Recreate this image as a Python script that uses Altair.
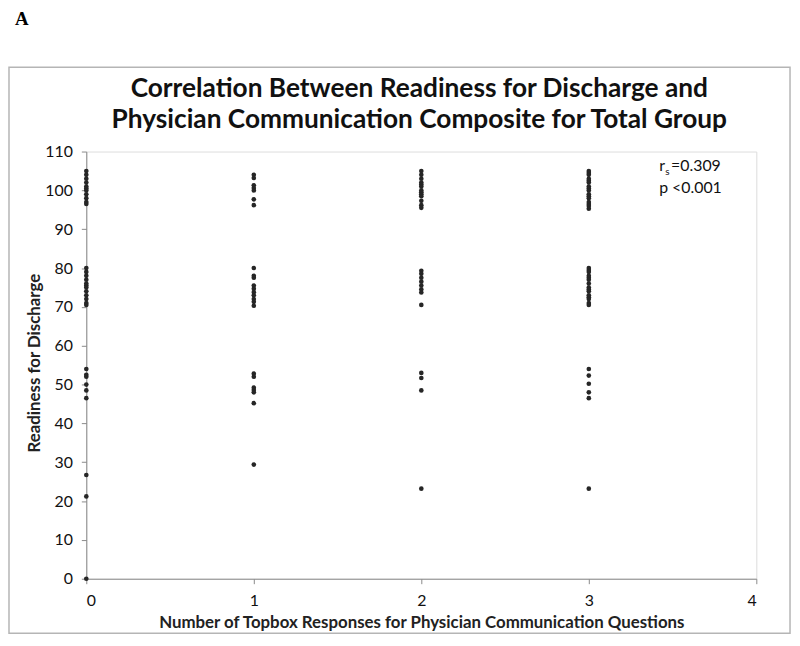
import altair as alt
import pandas as pd

# Readiness-for-discharge scores by number of topbox responses
x0_vals = [105, 104, 103, 102, 101, 100.5, 100, 99, 98, 97, 96.5,
           80, 79, 78, 77, 76, 75.5, 75, 74, 73, 72, 71, 70.5,
           54, 52.5, 52, 50, 48.5, 46.5, 26.7, 21.2, 0]
x1_vals = [104, 103.2, 101.3, 100.6, 100, 97.7, 96.2,
           80, 78, 77.5, 75.5, 74.7, 73.8, 73, 72, 71.3, 70.3,
           52.8, 52, 49.2, 48.6, 48, 45.2, 29.4]
x2_vals = [105, 104, 103, 102, 101.5, 101, 100, 99.5, 99, 98.5, 97.3, 96.2, 95.5,
           79.3, 78.5, 77.5, 76.5, 75.5, 74.5, 73.7, 70.5,
           53, 51.7, 48.5, 23.2]
x3_vals = [105, 104.5, 104, 103, 102.5, 102, 101, 100.5, 100, 99, 98.5, 98, 97, 96.5, 96, 95.3,
           80, 79.5, 79, 78, 77.5, 77, 76, 75, 74.5, 74, 73, 72.5, 72, 71, 70.5,
           54, 52.3, 50.2, 48, 46.5, 23.2]

x_ticks = [0, 1, 2, 3, 4]
y_ticks = list(range(0, 111, 10))

title_lines = ["Correlation Between Readiness for Discharge and",
               "Physician Communication Composite for Total Group"]

rows = []
for xv, vals in zip([0, 1, 2, 3], [x0_vals, x1_vals, x2_vals, x3_vals]):
    for v in vals:
        rows.append({"topbox": xv, "readiness": v})
df = pd.DataFrame(rows)

FONT = "Lato"
W, H = 676, 431

points = alt.Chart(df).mark_circle(size=22, color="#262626", opacity=1).encode(
    x=alt.X("topbox:Q",
            scale=alt.Scale(domain=[0, 4], nice=False),
            axis=alt.Axis(values=x_ticks, format="d",
                          title="Number of Topbox Responses for Physician Communication Questions",
                          titleFontSize=17, titleFontWeight="bold", titleFont=FONT,
                          titleColor="#222", titleX=338, titleY=44,
                          titleBaseline="middle", titleAlign="center",
                          labelFontSize=16, labelFont=FONT, labelColor="#111",
                          labelPadding=9, tickSize=5, tickColor="#8a8a8a",
                          domainColor="#8a8a8a", grid=False)),
    y=alt.Y("readiness:Q",
            scale=alt.Scale(domain=[0, 110], nice=False),
            axis=alt.Axis(values=y_ticks, format="d",
                          title="Readiness for Discharge",
                          titleFontSize=17, titleFontWeight="bold", titleFont=FONT,
                          titleColor="#222", titleX=-52, titleY=213,
                          titleAngle=270, titleBaseline="middle", titleAlign="center",
                          labelFontSize=16, labelFont=FONT, labelColor="#111",
                          labelPadding=9, tickSize=5, tickColor="#8a8a8a",
                          domainColor="#8a8a8a", grid=False)),
)

one = pd.DataFrame({"a": [0]})

border = alt.Chart(one).mark_rect(
    fillOpacity=0, stroke="#b5b5b5", strokeWidth=1.5, clip=False
).encode(x=alt.value(-78), x2=alt.value(710), y=alt.value(-85), y2=alt.value(486))

label_a = alt.Chart(one).mark_text(
    text="A", font="Liberation Serif", fontWeight="bold", fontSize=19,
    align="left", baseline="alphabetic", color="#000", clip=False
).encode(x=alt.value(-72), y=alt.value(-128))

title1 = alt.Chart(one).mark_text(
    text=title_lines[0], font=FONT, fontSize=26.5, fontWeight="bold",
    align="center", baseline="alphabetic", color="#111"
).encode(x=alt.value(336), y=alt.value(-55))
title2 = alt.Chart(one).mark_text(
    text=title_lines[1], font=FONT, fontSize=26.5, fontWeight="bold",
    align="center", baseline="alphabetic", color="#111"
).encode(x=alt.value(336), y=alt.value(-24))

ann_r = alt.Chart(one).mark_text(
    text="r", font=FONT, fontSize=16, align="left", baseline="alphabetic", color="#111"
).encode(x=alt.value(578), y=alt.value(20))
ann_s = alt.Chart(one).mark_text(
    text="s", font=FONT, fontSize=10, align="left", baseline="alphabetic", color="#111"
).encode(x=alt.value(584), y=alt.value(24))
ann_val = alt.Chart(one).mark_text(
    text="=0.309", font=FONT, fontSize=16, align="left", baseline="alphabetic", color="#111"
).encode(x=alt.value(590), y=alt.value(20))
ann_p = alt.Chart(one).mark_text(
    text="p <0.001", font=FONT, fontSize=16, align="left", baseline="alphabetic", color="#111"
).encode(x=alt.value(578), y=alt.value(42))

chart = alt.layer(border, label_a, title1, title2, points, ann_r, ann_s, ann_val, ann_p).properties(
    width=W, height=H,
    autosize=alt.AutoSizeParams(type="none"),
    padding={"left": 79, "top": 142, "right": 36, "bottom": 60},
).configure_view(stroke=None).configure(background="white")

chart.save("out.html", embed_options={"renderer": "svg", "actions": False})
